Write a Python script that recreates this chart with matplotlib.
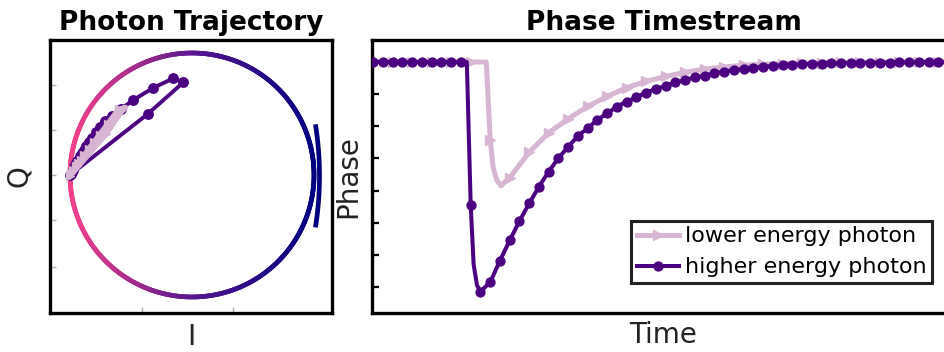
import numpy as np
import matplotlib
matplotlib.use("Agg")
import matplotlib.pyplot as plt
from matplotlib.collections import LineCollection
from matplotlib.colors import LinearSegmentedColormap
from matplotlib.lines import Line2D

# ---------------- data ----------------
# Resonance circle (IQ plane, normalised units)
circle_center = (0.0, 0.0)
circle_radius = 1.0
# small off-resonance arc at the right of the circle
arc_center = (-1.655, -0.007)
arc_radius = 2.70
arc_span_deg = 9.0

# IQ trajectories (time-ordered)
iq_dark_I = [-1.000, -0.363, -0.070, -0.156, -0.320, -0.481, -0.582, -0.656, -0.713,
             -0.754, -0.787, -0.820, -0.844, -0.869, -0.885, -0.902, -0.918, -0.930,
             -0.943, -0.951, -0.959, -0.967, -0.975, -0.984, -0.992]
iq_dark_Q = [0.000, 0.500, 0.760, 0.791, 0.713, 0.615, 0.541, 0.484, 0.443,
             0.393, 0.352, 0.303, 0.270, 0.238, 0.205, 0.180, 0.156, 0.131,
             0.115, 0.098, 0.082, 0.066, 0.041, 0.025, 0.008]

iq_light_I = [-1.000, -0.705, -0.582, -0.545, -0.602, -0.691, -0.757, -0.801, -0.844,
              -0.883, -0.912, -0.933, -0.950, -0.975, -0.993]
iq_light_Q = [-0.008, 0.336, 0.516, 0.553, 0.537, 0.418, 0.331, 0.273, 0.216,
              0.164, 0.124, 0.098, 0.075, 0.040, 0.017]
iq_light_marked = [1, 1, 0, 0, 1, 1, 1, 1, 1, 1, 1, 1, 1, 1, 1]

# Phase timestream: marker samples
t_dark_mark = list(range(0, 61))
phase_dark_mark = [0, 0, 0, 0, 0, 0, 0, 0, 0, 0,
                   -4.45, -7.14, -6.85, -6.18, -5.55, -4.95, -4.40, -3.88, -3.41, -2.99,
                   -2.64, -2.30, -2.06, -1.80, -1.60, -1.39, -1.23, -1.10, -0.95, -0.84,
                   -0.74, -0.63, -0.56, -0.48, -0.43, -0.35, -0.30, -0.25, -0.22, -0.18,
                   -0.15, -0.12, -0.10, -0.08, -0.07, -0.06, -0.05, -0.04, -0.04, -0.03,
                   -0.03, -0.02, -0.02, -0.02, -0.01, -0.01, -0.01, -0.01, 0, 0, 0]
# extra line vertices (sharp onset / rounded minimum) between markers
t_dark_extra = [9.6, 10.3, 10.65]
phase_dark_extra = [0.0, -6.3, -6.95]

t_light_mark = list(range(0, 61, 2))
phase_light_mark = [0, 0, 0, 0, 0, 0,
                    -2.42, -3.60, -2.81, -2.20, -1.77, -1.38, -1.07, -0.80, -0.60, -0.45,
                    -0.32, -0.22, -0.155, -0.10, -0.07, -0.05, -0.035, -0.025, -0.015, -0.01,
                    0, 0, 0, 0, 0]
t_light_extra = [11.6, 12.3, 12.67, 13.1]
phase_light_extra = [0.0, -3.27, -3.67, -3.85]

phase_ticks = [0, -1, -2, -3, -4, -5, -6, -7]
labels = ["lower energy photon", "higher energy photon"]

c_dark = "#4b0082"
c_light = "#d7b5d3"

# ---------------- figure ----------------
plt.rcParams['font.family'] = ['DejaVu Sans']
fig = plt.figure(figsize=(9.45, 3.52), dpi=100)
W, H = 945.0, 352.0
ax1 = fig.add_axes([50 / W, 1 - 313 / H, 282 / W, 273 / H])
ax2 = fig.add_axes([372 / W, 1 - 313 / H, 583 / W, 273 / H])

# ---- left: photon trajectory ----
th = np.linspace(0, 2 * np.pi, 721)
cx = circle_center[0] + circle_radius * np.cos(th)
cy = circle_center[1] + circle_radius * np.sin(th)
pts = np.column_stack([cx, cy]).reshape(-1, 1, 2)
segs = np.concatenate([pts[:-1], pts[1:]], axis=1)
cmap = LinearSegmentedColormap.from_list("trk", ["#000080", "#5a168f", "#f5418c"])
vals = (1 - np.cos(th[:-1] + np.diff(th) / 2)) / 2
lc = LineCollection(segs, colors=cmap(vals), linewidths=3.4, capstyle="round")
ax1.add_collection(lc)

ath = np.radians(np.linspace(-arc_span_deg, arc_span_deg, 60))
ax1.plot(arc_center[0] + arc_radius * np.cos(ath), arc_center[1] + arc_radius * np.sin(ath),
         color="#000080", lw=3.4, solid_capstyle="butt")

ax1.plot(iq_dark_I, iq_dark_Q, color=c_dark, lw=2.8, marker="o", ms=6.8, zorder=3)
lI = [x for x, m in zip(iq_light_I, iq_light_marked) if m]
lQ = [y for y, m in zip(iq_light_Q, iq_light_marked) if m]
ax1.plot(iq_light_I, iq_light_Q, color=c_light, lw=4.0, zorder=4, solid_joinstyle="round")
ax1.plot(lI, lQ, ls="none", color=c_light, marker=">", ms=5.5, zorder=4)

ax1.set_xlim((50 - 192) / 122, (332 - 192) / 122)
ax1.set_ylim((175 - 313) / 122, (175 - 40) / 122)
ax1.set_xticks([-0.41, 0.336])
ax1.set_yticks([-0.754, -0.369, 0, 0.369, 0.738])
ax1.tick_params(direction="in", length=4, width=1, color="#b0b0b0",
                labelbottom=False, labelleft=False)
for s in ax1.spines.values():
    s.set_linewidth(2.4)
    s.set_color("black")
ax1.set_title("Photon Trajectory", fontsize=19, fontweight="bold", pad=7)
ax1.set_xlabel("I", fontsize=20, color="#222222", labelpad=7)
ax1.set_ylabel("Q", fontsize=20, color="#222222", labelpad=12.5)

# ---- right: phase timestream ----
def merged(tm, pm, te, pe):
    t = np.array(list(tm) + list(te), dtype=float)
    p = np.array(list(pm) + list(pe), dtype=float)
    o = np.argsort(t, kind="stable")
    return t[o], p[o]

tl, pl = merged(t_light_mark, phase_light_mark, t_light_extra, phase_light_extra)
td, pd_ = merged(t_dark_mark, phase_dark_mark, t_dark_extra, phase_dark_extra)

ax2.plot(tl, pl, color=c_light, lw=3.6, zorder=2, solid_joinstyle="round")
ax2.plot(t_light_mark, phase_light_mark, ls="none", color=c_light, marker=">", ms=7, zorder=2)
ax2.plot(td, pd_, color=c_dark, lw=2.9, zorder=3, solid_joinstyle="round")
ax2.plot(t_dark_mark, phase_dark_mark, ls="none", color=c_dark, marker="o", ms=6.4, zorder=3)

ax2.set_xlim(-0.13, 59.7)
ax2.set_ylim(-(313 - 62) / 32.15, (62 - 40) / 32.15)
ax2.set_xticks([])
ax2.set_yticks(phase_ticks)
ax2.tick_params(axis="y", direction="in", length=5, width=1.6, color="black",
                labelleft=False)
for s in ax2.spines.values():
    s.set_linewidth(2.4)
    s.set_color("black")
ax2.set_title("Phase Timestream", fontsize=19, fontweight="bold", pad=7)
ax2.set_xlabel("Time", fontsize=20, color="#222222", labelpad=6)
ax2.set_ylabel("Phase", fontsize=20, color="#222222", labelpad=7)

handles = [Line2D([], [], color=c_light, lw=3.6, marker=">", ms=7),
           Line2D([], [], color=c_dark, lw=2.9, marker="o", ms=6.4)]
leg = ax2.legend(handles, labels, loc="lower right",
                 bbox_to_anchor=(932 / W, 1 - 283 / H), bbox_transform=fig.transFigure,
                 fontsize=16, frameon=True, fancybox=False, framealpha=1,
                 edgecolor="#222222", borderpad=0.25, labelspacing=0.5,
                 handlelength=1.9, handletextpad=0.25, borderaxespad=0)
leg.get_frame().set_linewidth(2.2)

fig.savefig("out.png", dpi=100)
